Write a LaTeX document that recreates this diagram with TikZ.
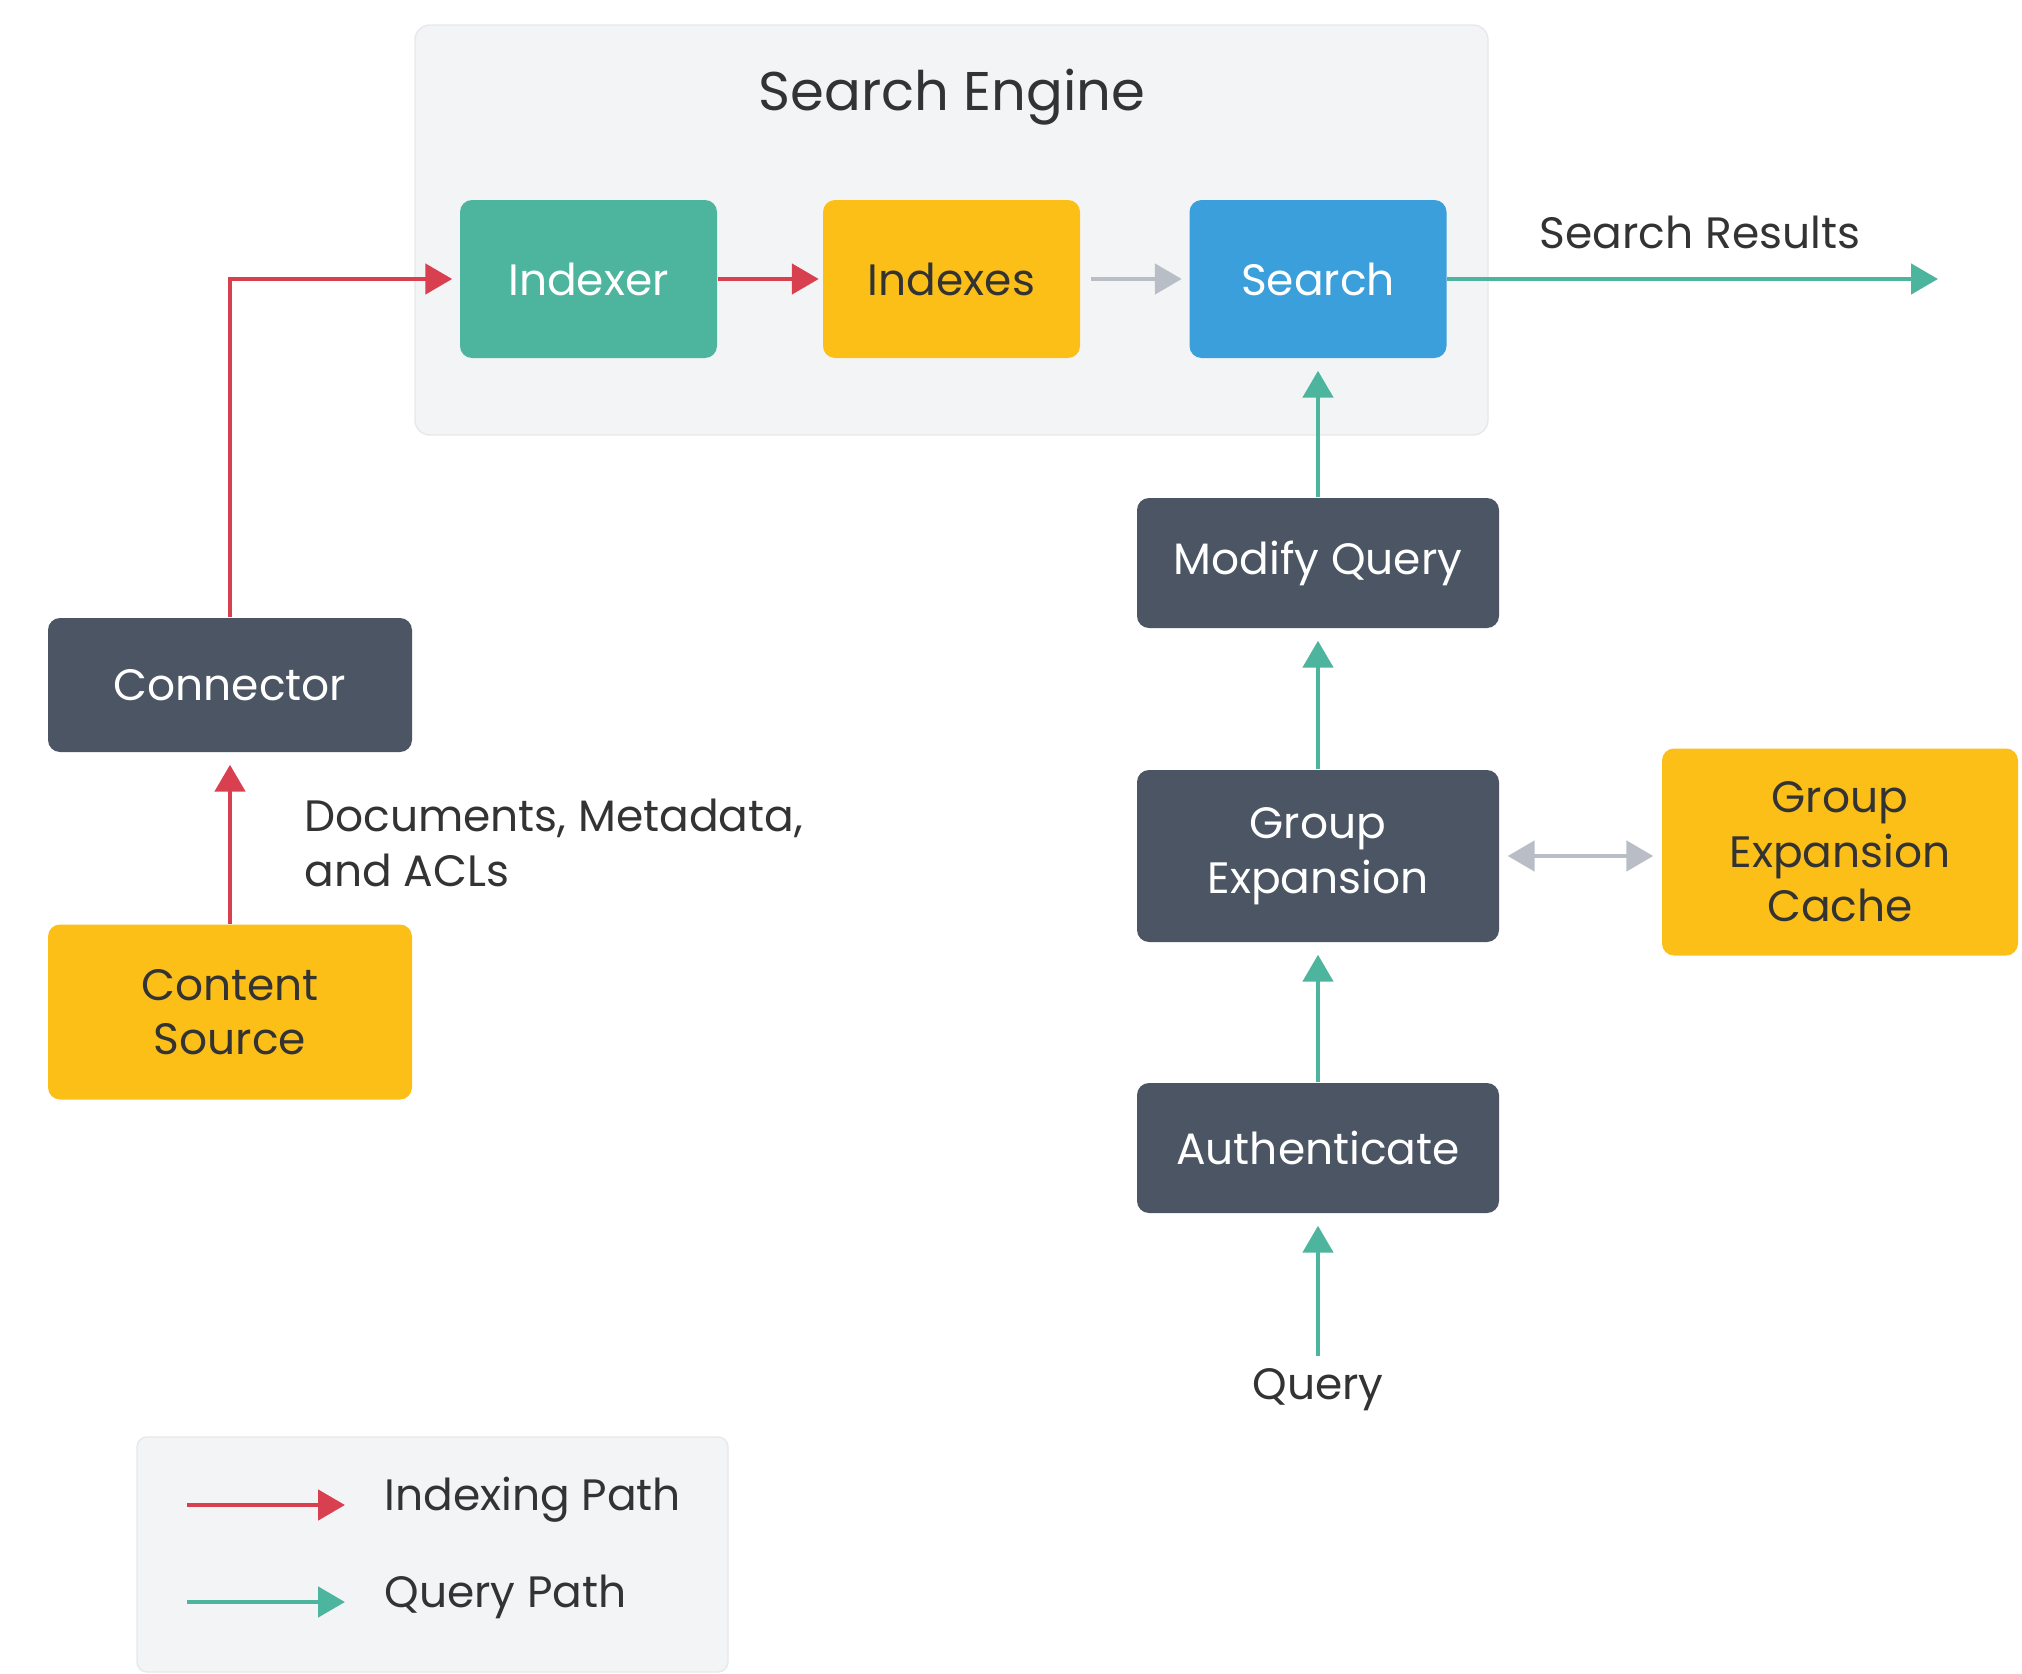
\documentclass[tikz,border=0pt]{standalone}
\usepackage{fontspec}
\setmainfont{Poppins}
\usepackage{xcolor}
\usetikzlibrary{arrows.meta,positioning,calc}
\definecolor{tealc}{HTML}{4DB49E}
\definecolor{yellowc}{HTML}{FBBF17}
\definecolor{bluec}{HTML}{3A9FDB}
\definecolor{slatec}{HTML}{4B5563}
\definecolor{redc}{HTML}{D8404F}
\definecolor{grayc}{HTML}{B9BDC5}
\definecolor{panelc}{HTML}{F3F4F6}
\definecolor{panelline}{HTML}{E6E8EB}
\definecolor{textc}{HTML}{333333}
\tikzset{
  box/.style={rounded corners=0.12cm, inner sep=2pt, align=center,
    font=\fontsize{12.5}{15.5}\selectfont},
  slatebox/.style={box, fill=slatec, text=white, minimum width=3.62cm},
  yellowbox/.style={box, fill=yellowc, text=textc},
  flow/.style={line width=1.4pt, -{Triangle[length=0.27cm,width=0.3cm]}},
  idx/.style={flow, redc},
  qry/.style={flow, tealc},
  lbl/.style={text=textc, font=\fontsize{12.5}{15.5}\selectfont}
}
\begin{document}
\begin{tikzpicture}
\useasboundingbox (0,0) rectangle (20.22,-16.74);
\fill[white] (0,0) rectangle (20.22,-16.74);
% panels
\draw[panelline, fill=panelc, rounded corners=0.15cm] (4.15,-0.25) rectangle (14.88,-4.35);
\draw[panelline, fill=panelc, rounded corners=0.1cm] (1.37,-14.37) rectangle (7.28,-16.72);
\node[text=textc, font=\fontsize{15.5}{18}\selectfont] (title) at (9.52,-0.97) {Search Engine};
% search engine
\node[box, fill=tealc, text=white, minimum width=2.57cm, minimum height=1.58cm] (indexer) at (5.885,-2.79) {Indexer};
\node[yellowbox, minimum width=2.57cm, minimum height=1.58cm] (indexes) at (9.515,-2.79) {Indexes};
\node[box, fill=bluec, text=white, minimum width=2.57cm, minimum height=1.58cm] (search) at (13.18,-2.79) {Search};
% query side
\node[slatebox, minimum height=1.30cm] (modify) at (13.18,-5.63) {Modify Query};
\node[slatebox, minimum height=1.72cm] (groupexp) at (13.18,-8.56) {Group\\Expansion};
\node[yellowbox, minimum width=3.56cm, minimum height=2.07cm] (cache) at (18.40,-8.52) {Group\\Expansion\\Cache};
\node[slatebox, minimum height=1.30cm] (auth) at (13.18,-11.48) {Authenticate};
\node[lbl] (query) at (13.18,-13.9) {Query};
% indexing side
\node[slatebox, minimum width=3.64cm, minimum height=1.34cm] (connector) at (2.30,-6.85) {Connector};
\node[yellowbox, minimum width=3.64cm, minimum height=1.75cm] (content) at (2.30,-10.12) {Content\\Source};
\node[lbl, align=left, anchor=west] (docs) at (2.92,-8.43) {Documents, Metadata,\\and ACLs};
\node[lbl] (results) at (17.0,-2.32) {Search Results};
\coordinate (resend) at (19.38,-2.79);
% arrows
\draw[idx, shorten >=2pt] (connector.north) |- (indexer.west);
\draw[idx, shorten >=1pt] (indexer) -- (indexes);
\draw[flow, grayc, shorten <=3pt, shorten >=2pt] (indexes) -- (search);
\draw[qry] (search.east) -- (resend);
\draw[idx, shorten >=0.12cm] (content.north) -- (connector.south);
\draw[qry, shorten >=0.12cm] (modify.north) -- (search.south);
\draw[qry, shorten >=0.12cm] (groupexp.north) -- (modify.south);
\draw[qry, shorten >=0.12cm] (auth.north) -- (groupexp.south);
\draw[qry, shorten >=0.12cm] (query.north) -- (auth.south);
\draw[flow, grayc, {Triangle[length=0.27cm,width=0.3cm]}-{Triangle[length=0.27cm,width=0.3cm]}, shorten <=0.08cm, shorten >=0.08cm] (groupexp.east) -- (groupexp.east -| cache.west);
% legend
\coordinate (l1a) at (1.87,-15.05);
\coordinate (l1b) at (3.45,-15.05);
\coordinate (l2a) at (1.87,-16.02);
\coordinate (l2b) at (3.45,-16.02);
\draw[idx] (l1a) -- (l1b);
\draw[qry] (l2a) -- (l2b);
\node[lbl, anchor=west] (legidx) at (3.72,-15.0) {Indexing Path};
\node[lbl, anchor=west] (legqry) at (3.72,-15.97) {Query Path};
\end{tikzpicture}
\end{document}
